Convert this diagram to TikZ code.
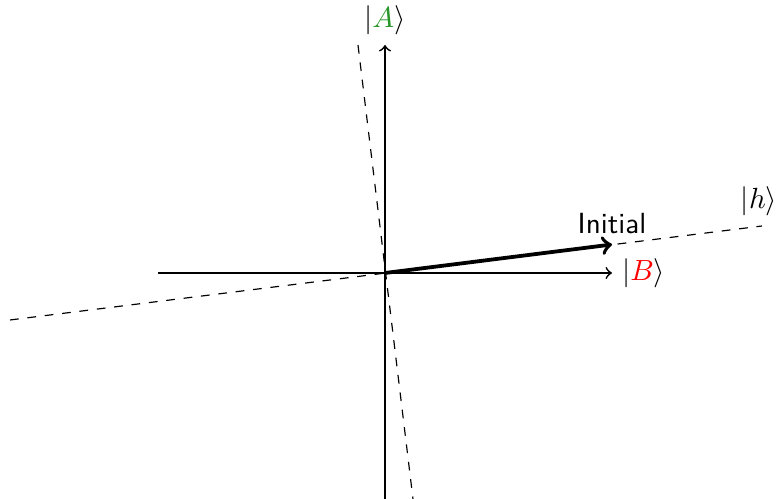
\documentclass[tikz,border=0pt]{standalone}
\usetikzlibrary{arrows}
\definecolor{agreen}{RGB}{40,150,40}
\begin{document}
\begin{tikzpicture}[x=0.01205cm,y=-0.01205cm,
  axis/.style={semithick},
  guide/.style={dashed, thin},
  vec/.style={line width=1.3pt,->},
  lab/.style={inner sep=3.3pt}]
\useasboundingbox (0,0) rectangle (779,499);
\coordinate (O) at (385,273);
\coordinate (xl) at (158,273);
\coordinate (xr) at (612,273);
\coordinate (yb) at (385,499);
\coordinate (yt) at (385,45);
\coordinate (hl) at (10,320);
\coordinate (hr) at (762,226);
\coordinate (pt) at (358,45);
\coordinate (pb) at (413,499);
\coordinate (tip) at (612,244.5);
\draw[guide] (hl) -- (hr);
\draw[guide] (pt) -- (pb);
\draw[axis,->] (xl) -- (xr);
\draw[axis,->] (yb) -- (yt);
\draw[vec] (O) -- (tip);
\node[lab,above] (la) at (yt) {$|{\color{agreen}A}\rangle$};
\node[lab,right] (lb) at (xr) {$|{\color{red}B}\rangle$};
\node[lab,anchor=south,xshift=-1pt] (lh) at (hr) {$|h\rangle$};
\node[lab,above] (li) at (tip) {\sffamily Initial};
\end{tikzpicture}
\end{document}
